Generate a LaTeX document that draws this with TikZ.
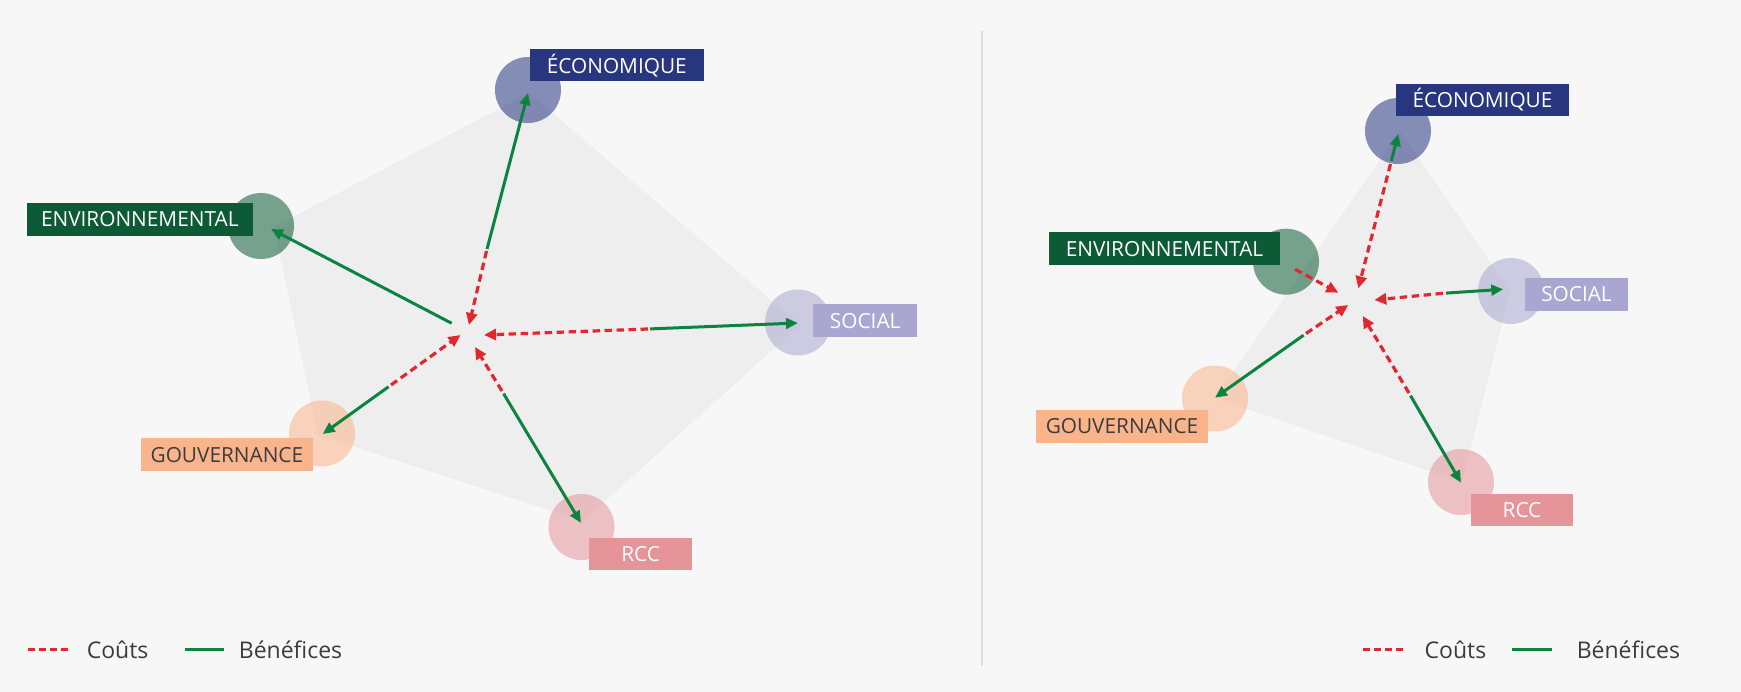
\documentclass[tikz,border=0pt]{standalone}
\usepackage{fontspec}
\setmainfont{Open Sans}
\usetikzlibrary{arrows.meta}
\definecolor{bg}{HTML}{F7F7F7}
\definecolor{polyC}{HTML}{EEEEEE}
\definecolor{ecoC}{HTML}{27367F}
\definecolor{envC}{HTML}{0C5B36}
\definecolor{socC}{HTML}{A9A7D1}
\definecolor{govC}{HTML}{F9B48B}
\definecolor{rccC}{HTML}{E5959A}
\definecolor{costC}{HTML}{E1282F}
\definecolor{benC}{HTML}{0B8440}
\definecolor{txtC}{HTML}{3C3C3C}
\definecolor{divC}{HTML}{DCDCDC}
\tikzset{
  dot/.style={circle, minimum size=66pt, inner sep=0pt, fill=#1, fill opacity=0.55},
  lab/.style={rectangle, fill=#1, minimum height=32.5pt, inner sep=0pt, text=white,
    font=\fontsize{20.8}{24}\selectfont},
  cost/.style={draw=costC, line width=3.2pt, dash pattern=on 7.5pt off 4.5pt,
    -{Triangle[length=12pt,width=11pt]}},
  benefit/.style={draw=benC, line width=3pt, -{Triangle[length=12pt,width=10.5pt]}},
  legcost/.style={draw=costC, line width=3pt, dash pattern=on 7pt off 4pt},
  legben/.style={draw=benC, line width=3pt},
  legtxt/.style={anchor=west, inner sep=0pt, text=txtC, font=\fontsize{23}{28}\selectfont},
}
\begin{document}
\begin{tikzpicture}[x=1pt,y=-1pt]
\fill[bg] (0,0) rectangle (1741,692);
\useasboundingbox (0,0) rectangle (1741,692);

% polygons
\fill[polyC] (529,93) -- (800,325) -- (583,521) -- (318,435) -- (274,227) -- cycle;
\fill[polyC] (1400,131) -- (1510,291) -- (1462,482) -- (1215,398) -- cycle;

% divider
\coordinate (divA) at (982,31);
\coordinate (divB) at (982,666);
\draw[divC, line width=2.5pt] (divA) -- (divB);

% ---------- left panel ----------
\node[dot=ecoC] (Leco) at (528,90) {};
\node[dot=envC] (Lenv) at (261,226) {};
\node[dot=socC] (Lsoc) at (798,322.5) {};
\node[dot=govC] (Lgov) at (322,433.5) {};
\node[dot=rccC] (Lrcc) at (581.5,527) {};

\node[lab=ecoC, minimum width=174.4pt] (LecoL) at (616.8,65.2) {ÉCONOMIQUE};
\node[lab=envC, minimum width=226.4pt] (LenvL) at (139.8,219.5) {ENVIRONNEMENTAL};
\node[lab=socC, minimum width=103.5pt] (LsocL) at (865.2,320.7) {SOCIAL};
\node[lab=govC, minimum width=171.7pt, text=txtC] (LgovL) at (226.9,454.7) {GOUVERNANCE};
\node[lab=rccC, minimum width=102.5pt] (LrccL) at (640.7,554) {RCC};

\coordinate (LcEco) at (469,325);
\coordinate (LcSoc) at (484,335);
\coordinate (LcGov) at (460.5,335);
\coordinate (LcRcc) at (475,347);
\coordinate (LtEco) at (486.5,251);
\coordinate (LtSoc) at (648,329);
\coordinate (LtGov) at (391,385);
\coordinate (LtRcc) at (502,391);
\coordinate (LsEnv) at (451.7,323.3);
\coordinate (LhEco) at (528,93);
\coordinate (LhEnv) at (271,229);
\coordinate (LhSoc) at (798,323);
\coordinate (LhGov) at (322.7,434);
\coordinate (LhRcc) at (581,523);

\draw[cost] (LtEco) -- (LcEco);
\draw[benefit, shorten <=2pt] (LtEco) -- (LhEco);
\draw[benefit] (LsEnv) -- (LhEnv);
\draw[cost] (LtSoc) -- (LcSoc);
\draw[benefit, shorten <=2pt] (LtSoc) -- (LhSoc);
\draw[cost] (LtGov) -- (LcGov);
\draw[benefit, shorten <=3pt] (LtGov) -- (LhGov);
\draw[cost] (LtRcc) -- (LcRcc);
\draw[benefit, shorten <=3pt] (LtRcc) -- (LhRcc);

% ---------- right panel ----------
\node[dot=ecoC] (Reco) at (1398,131) {};
\node[dot=envC] (Renv) at (1286,261.7) {};
\node[dot=socC] (Rsoc) at (1511,291) {};
\node[dot=govC] (Rgov) at (1215,398.5) {};
\node[dot=rccC] (Rrcc) at (1461,482) {};

\node[lab=ecoC, minimum width=173pt] (RecoL) at (1482.5,100) {ÉCONOMIQUE};
\node[lab=envC, minimum width=231pt] (RenvL) at (1164.5,248.7) {ENVIRONNEMENTAL};
\node[lab=socC, minimum width=103pt] (RsocL) at (1576.5,294.4) {SOCIAL};
\node[lab=govC, minimum width=171.5pt, text=txtC] (RgovL) at (1122,426.5) {GOUVERNANCE};
\node[lab=rccC, minimum width=102pt] (RrccL) at (1522,510) {RCC};

\coordinate (RcEco) at (1358.3,288.3);
\coordinate (RcEnv) at (1338.3,292.7);
\coordinate (RcSoc) at (1374.3,300);
\coordinate (RcGov) at (1348.3,305);
\coordinate (RcRcc) at (1362.7,316);
\coordinate (RtEco) at (1390.5,164);
\coordinate (RsEnv) at (1295,269.3);
\coordinate (RtSoc) at (1443,293.3);
\coordinate (RtGov) at (1306,333.5);
\coordinate (RtRcc) at (1409,393);
\coordinate (RhEco) at (1398.3,134);
\coordinate (RhSoc) at (1503.3,289.3);
\coordinate (RhGov) at (1215,397.7);
\coordinate (RhRcc) at (1461,482.7);

\draw[cost] (RtEco) -- (RcEco);
\draw[benefit, shorten <=3pt] (RtEco) -- (RhEco);
\draw[cost] (RsEnv) -- (RcEnv);
\draw[cost] (RtSoc) -- (RcSoc);
\draw[benefit, shorten <=3pt] (RtSoc) -- (RhSoc);
\draw[cost] (RtGov) -- (RcGov);
\draw[benefit, shorten <=3pt] (RtGov) -- (RhGov);
\draw[cost] (RtRcc) -- (RcRcc);
\draw[benefit, shorten <=3pt] (RtRcc) -- (RhRcc);

% ---------- legends ----------
\coordinate (LlcA) at (28,649.5);
\coordinate (LlcB) at (69,649.5);
\draw[legcost] (LlcA) -- (LlcB);
\node[legtxt] (LlcT) at (86.6,650) {Coûts};
\coordinate (LlbA) at (185.4,649.5);
\coordinate (LlbB) at (224.3,649.5);
\draw[legben] (LlbA) -- (LlbB);
\node[legtxt] (LlbT) at (238.7,650) {Bénéfices};

\coordinate (RlcA) at (1363,649.5);
\coordinate (RlcB) at (1404.6,649.5);
\draw[legcost] (RlcA) -- (RlcB);
\node[legtxt] (RlcT) at (1424.5,650) {Coûts};
\coordinate (RlbA) at (1512,649.5);
\coordinate (RlbB) at (1552,649.5);
\draw[legben] (RlbA) -- (RlbB);
\node[legtxt] (RlbT) at (1576.6,650) {Bénéfices};
\end{tikzpicture}
\end{document}
